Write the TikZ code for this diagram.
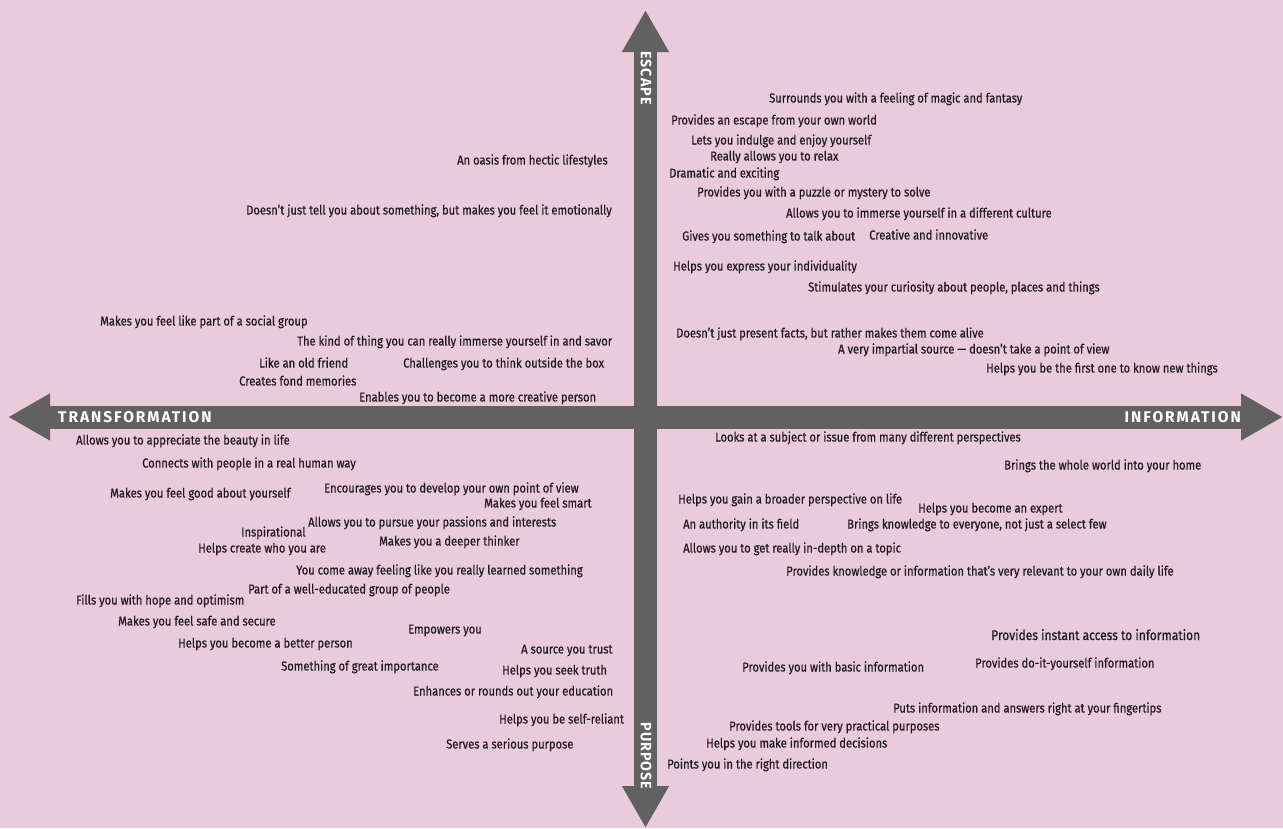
\documentclass[tikz,border=0pt]{standalone}
\usepackage{fontspec}
\setmainfont{Fira Sans}[FakeStretch=0.86,FakeBold=0.5]
\newfontfamily\axisfont{Fira Sans}[LetterSpace=12.5]
\newfontfamily\vaxisfont{Fira Sans}[FakeStretch=0.95,LetterSpace=7]
\usetikzlibrary{arrows.meta}
\definecolor{bgpink}{HTML}{EACBDB}
\definecolor{axisgray}{HTML}{616161}
\definecolor{inkgray}{HTML}{1E1A1C}
\begin{document}
\begin{tikzpicture}[x=1pt,y=-1pt,
  axis/.style={line width=23pt,draw=axisgray,
    {Triangle[width=44pt,length=42pt]}-{Triangle[width=44pt,length=42pt]}},
  item/.style={anchor=base west,inner sep=0pt,text=inkgray,
    font=\fontsize{13}{14}\selectfont},
  hlabel/.style={text=white,inner sep=0pt,
    font=\axisfont\bfseries\fontsize{15.5}{16}\selectfont},
  vlabel/.style={text=white,inner sep=0pt,rotate=-90,
    font=\vaxisfont\bfseries\fontsize{15}{16}\selectfont}]
% Background
\useasboundingbox (0,0) rectangle (1283,828);
\fill[bgpink] (0,0) rectangle (1283,828);

% Axes
\coordinate (west) at (8,417);
\coordinate (east) at (1283,417);
\coordinate (north) at (645.5,10);
\coordinate (south) at (645.5,828);
\draw[axis] (west) -- (east);
\draw[axis] (north) -- (south);
\node[hlabel,anchor=west] (transf) at (58,417.5) {TRANSFORMATION};
\node[hlabel,anchor=east] (inform) at (1241,417.5) {INFORMATION};
\node[vlabel] (escape) at (646,78) {ESCAPE};
\node[vlabel] (purpose) at (646,756) {PURPOSE};

% Escape / information
\foreach \x/\y/\t [count=\i] in {
  769/98/Surrounds you with a feeling of magic and fantasy,
  671/120/Provides an escape from your own world,
  691/140/Lets you indulge and enjoy yourself,
  710/156/Really allows you to relax,
  669/173/Dramatic and exciting,
  697/192/Provides you with a puzzle or mystery to solve,
  786/213/Allows you to immerse yourself in a different culture,
  682/236/Gives you something to talk about,
  869/235/Creative and innovative,
  673/266/Helps you express your individuality,
  808/287/{Stimulates your curiosity about people, places and things},
  676/333/{Doesn’t just present facts, but rather makes them come alive},
  838/349/A very impartial source — doesn’t take a point of view,
  986/368/Helps you be the first one to know new things}
  \node[item] (ne\i) at (\x,\y+4.5) {\t};

% Escape / transformation
\foreach \x/\y/\t [count=\i] in {
  457/160/An oasis from hectic lifestyles,
  246/210/{Doesn’t just tell you about something, but makes you feel it emotionally},
  100/321/Makes you feel like part of a social group,
  297/341/The kind of thing you can really immerse yourself in and savor,
  259/363/Like an old friend,
  403/363/Challenges you to think outside the box,
  239/381/Creates fond memories,
  359/397/Enables you to become a more creative person}
  \node[item] (nw\i) at (\x,\y+4.5) {\t};

% Purpose / transformation
\foreach \x/\y/\t [count=\i] in {
  76/440/Allows you to appreciate the beauty in life,
  142/463/Connects with people in a real human way,
  110/493/Makes you feel good about yourself,
  324/488/Encourages you to develop your own point of view,
  484/503/Makes you feel smart,
  308/522/Allows you to pursue your passions and interests,
  241/532/Inspirational,
  198/548/Helps create who you are,
  379/541/Makes you a deeper thinker,
  296/570/You come away feeling like you really learned something,
  248/589/Part of a well-educated group of people,
  76/600/Fills you with hope and optimism,
  118/621/Makes you feel safe and secure,
  408/629/Empowers you,
  178/643/Helps you become a better person,
  521/649/A source you trust,
  281/666/Something of great importance,
  502/670/Helps you seek truth,
  413/691/Enhances or rounds out your education,
  499/719/Helps you be self-reliant,
  446/744/Serves a serious purpose}
  \node[item] (sw\i) at (\x,\y+4.5) {\t};

% Purpose / information
\foreach \x/\y/\t [count=\i] in {
  715/437/Looks at a subject or issue from many different perspectives,
  1004/465/Brings the whole world into your home,
  678/499/Helps you gain a broader perspective on life,
  918/508/Helps you become an expert,
  683/524/An authority in its field,
  847/524/{Brings knowledge to everyone, not just a select few},
  683/548/Allows you to get really in-depth on a topic,
  786/571/Provides knowledge or information that’s very relevant to your own daily life,
  742/667/Provides you with basic information,
  975/663/Provides do-it-yourself information,
  893/708/Puts information and answers right at your fingertips,
  729/726/Provides tools for very practical purposes,
  706/743/Helps you make informed decisions,
  667/764/Points you in the right direction}
  \node[item] (se\i) at (\x,\y+4.5) {\t};
\node[item,font=\fontsize{14}{15}\selectfont] (instant) at (991,640) {Provides instant access to information};
\end{tikzpicture}
\end{document}
